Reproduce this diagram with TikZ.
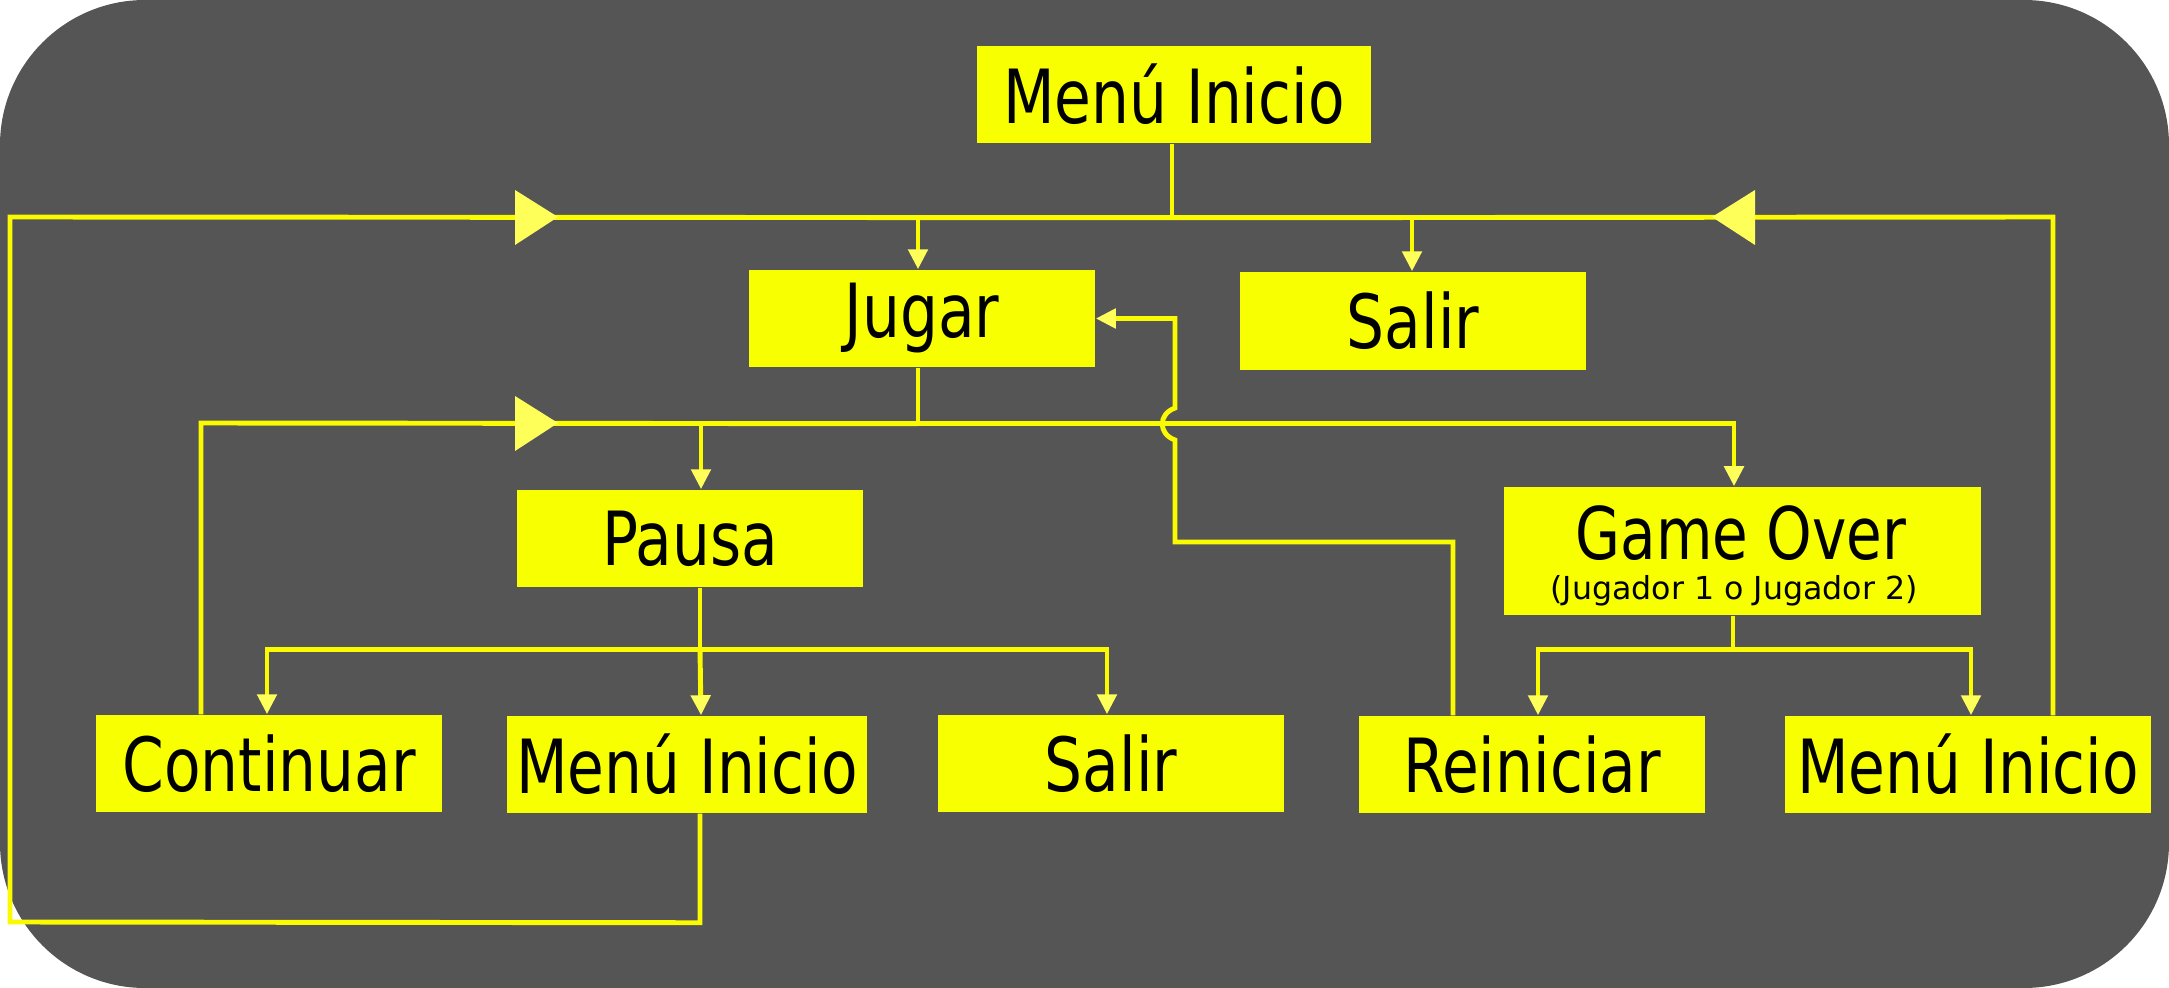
\documentclass[tikz,border=0pt]{standalone}
\usepackage{fontspec}
\setmainfont{DejaVu Sans}
\usetikzlibrary{arrows.meta,calc}
\definecolor{bgc}{RGB}{85,85,85}
\definecolor{boxc}{RGB}{248,255,0}
\definecolor{linec}{RGB}{250,250,0}
\definecolor{tipc}{RGB}{255,255,90}
\newcommand\tallt[1]{\scalebox{1}[1.25]{#1}}
\tikzset{
  box/.style={fill=boxc, draw=none, inner sep=0pt, minimum width=3.46cm, minimum height=0.97cm,
    font=\fontsize{17}{20}\selectfont, text=black},
  conn/.style={draw=linec, line width=1.4pt},
  arr/.style={conn, -{Triangle[length=0.2cm,width=0.19cm,color=tipc]}},
  bigtri/.style={fill=tipc, draw=none},
}
\begin{document}
\begin{tikzpicture}[x=0.01cm,y=-0.01cm]
\useasboundingbox (0,0) rectangle (2169,988);
\fill[bgc, rounded corners=1.45cm] (0,0) rectangle (2169,988);

% nodes
\node[box, minimum width=3.94cm] (m1) at (1174,94.5) {\tallt{Menú Inicio}};
\node[box] (jug) at (922,318.5) {\tallt{Jugar}};
\node[box, minimum height=0.98cm] (sal1) at (1413,321) {\tallt{Salir}};
\node[box] (pau) at (690,538.5) {\tallt{Pausa}};
\node[box, minimum width=4.77cm, minimum height=1.28cm] (go) at (1742.5,551) {};
\node[font=\fontsize{16.5}{20}\selectfont, inner sep=0pt] (got) at (1741,533) {\tallt{Game Over}};
\node[font=\fontsize{9}{11}\selectfont, inner sep=0pt] (gos) at (1734,591) {(Jugador 1 o Jugador 2)};
\node[box] (cont) at (269,763.5) {\tallt{Continuar}};
\node[box, minimum width=3.6cm] (mi2) at (687,764.5) {\tallt{Menú Inicio}};
\node[box] (sal2) at (1111,763.5) {\tallt{Salir}};
\node[box] (rein) at (1532,764.5) {\tallt{Reiniciar}};
\node[box, minimum width=3.66cm] (mi3) at (1968,764.5) {\tallt{Menú Inicio}};

% coordinates
\coordinate (h1) at ($(m1.south)+(-2,74)$);
\coordinate (h2) at ($(jug.south)+(-4,56)$);
\coordinate (h3) at ($(pau.south)+(10,62)$);
\coordinate (h4) at ($(go.south)+(-9.5,34)$);
\coordinate (lb) at (10,922);
\coordinate (lt) at (10,217);
\coordinate (rt) at (2053,217);
\coordinate (ct) at (201,423);
\coordinate (ra) at (1453,542);
\coordinate (rb) at (1175,542);
\coordinate (rc) at (1175,318.5);

% top level
\draw[conn] ($(m1.south)+(-2,0)$) -- (h1);
\draw[arr] (h1) -| ($(jug.north)+(-4,0)$);
\draw[arr] (h1) -| ($(sal1.north)+(-1,0)$);
% left loop from Menú Inicio (pausa)
\draw[conn] ($(mi2.south)+(13,0)$) -- ($(mi2.south)+(13,109)$) -- (lb) -- (lt) -- (h1);
% right loop from Menú Inicio (game over)
\draw[conn] ($(mi3.north)+(85,0)$) -- (rt) -- (h1);

% second level
\draw[conn] (jug.south) ++(-4,0) -- (h2);
\draw[arr] (h2) -| ($(pau.north)+(11,0)$);
\draw[arr] (h2) -| ($(go.north)+(-8.5,0)$);
\draw[conn] ($(cont.north)+(-68,0)$) -- (ct) -- (h2);

% pausa children
\draw[conn] ($(pau.south)+(10,0)$) -- (h3);
\draw[arr] (h3) -| ($(cont.north)+(-2,0)$);
\draw[arr] (h3) -- ($(mi2.north)+(14,0)$);
\draw[arr] (h3) -| ($(sal2.north)+(-4,0)$);

% game over children
\draw[conn] ($(go.south)+(-9.5,0)$) -- (h4);
\draw[arr] (h4) -| ($(rein.north)+(6,0)$);
\draw[arr] (h4) -| ($(mi3.north)+(3,0)$);

% reiniciar back to jugar, with jump over
\draw[arr] ($(rein.north)+(-79,0)$) -- (ra) -- (rb) -- (1175,440)
   .. controls (1158,434) and (1158,414) .. (1175,408) -- (rc) -- (jug.east);

% big direction triangles
\fill[bigtri] (558,217) -- (515,190) -- (515,245) -- cycle;
\fill[bigtri] (558,423) -- (515,396) -- (515,451) -- cycle;
\fill[bigtri] (1712,217) -- (1755,190) -- (1755,245) -- cycle;
\end{tikzpicture}
\end{document}
